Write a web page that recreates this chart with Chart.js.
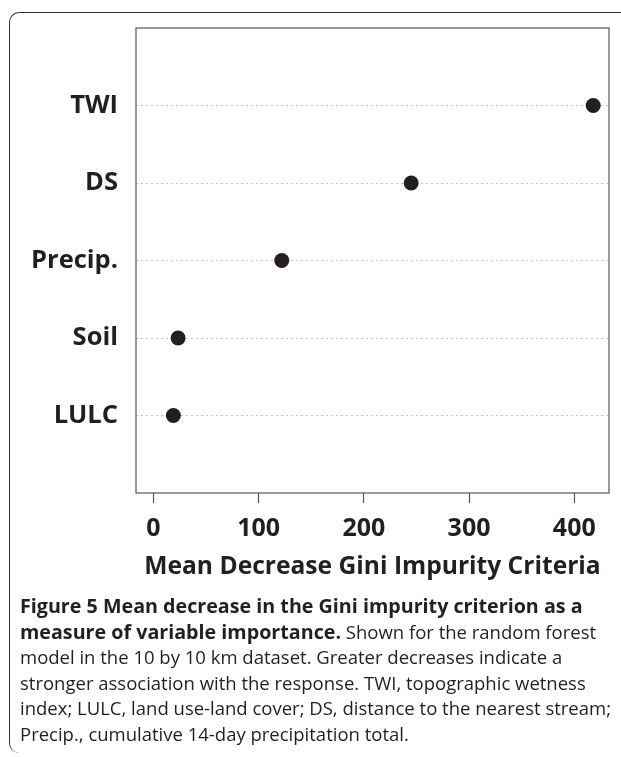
<!DOCTYPE html>
<html>
<head>
<meta charset="utf-8">
<script src="https://cdn.jsdelivr.net/npm/chart.js@4/dist/chart.umd.min.js"></script>
<style>
  html, body { margin: 0; padding: 0; background: #fff; }
  body { width: 621px; height: 757px; position: relative; overflow: hidden; font-family: "Open Sans", sans-serif; }
  #frame { position: absolute; left: 9px; top: 12px; width: 640px; height: 741px; border-top: 1.5px solid #333; border-left: 1.5px solid #333; border-radius: 10px 0 0 10px; box-sizing: border-box; }
  #wrap { position: absolute; left: 0; top: 0; width: 621px; height: 595px; }
  #caption { position: absolute; left: 20px; top: 593px; font-size: 18.5px; line-height: 25.5px; color: #231f20; white-space: nowrap; }
  #caption b { font-weight: 700; font-size: 19.7px; }
</style>
</head>
<body>
<div id="frame"></div>
<div id="wrap"><canvas id="chart"></canvas></div>
<div id="caption">
  <b>Figure 5 Mean decrease in the Gini impurity criterion as a</b><br>
  <b>measure of variable importance.</b> Shown for the random forest<br>
  model in the 10 by 10 km dataset. Greater decreases indicate a<br>
  stronger association with the response. TWI, topographic wetness<br>
  index; LULC, land use-land cover; DS, distance to the nearest stream;<br>
  Precip., cumulative 14-day precipitation total.
</div>
<script>
// variables, top to bottom as in the dot chart
const variables = ["TWI", "DS", "Precip.", "Soil", "LULC"];
const meanDecreaseGini = [418, 245, 122, 23.5, 19];
const xTicks = [0, 100, 200, 300, 400];
const axisTitle = "Mean Decrease Gini Impurity Criteria";

const n = variables.length;
const points = variables.map((v, i) => ({ x: meanDecreaseGini[i], y: n - i }));

const boxPlugin = {
  id: "box",
  afterDraw(chart) {
    const { ctx, chartArea: a } = chart;
    ctx.save();
    ctx.strokeStyle = "#555";
    ctx.lineWidth = 1.2;
    ctx.strokeRect(a.left, a.top, a.right - a.left, a.bottom - a.top);
    ctx.restore();
  }
};

new Chart(document.getElementById("chart"), {
  type: "scatter",
  data: { datasets: [{ data: points, backgroundColor: "#231f20", borderWidth: 0, pointRadius: 7.5, pointHoverRadius: 7.5 }] },
  options: {
    responsive: true, maintainAspectRatio: false, animation: false,
    layout: { padding: { top: 28, right: 12, left: 0, bottom: 0 } },
    plugins: { legend: { display: false }, tooltip: { enabled: false } },
    scales: {
      x: {
        type: "linear", min: -16.5, max: 433,
        afterBuildTicks: s => { s.ticks = xTicks.map(v => ({ value: v })); },
        afterFit: s => { s.height = 102; },
        grid: { drawOnChartArea: false, drawTicks: true, tickLength: 10, tickColor: "#555", tickWidth: 1.2 },
        border: { display: false },
        ticks: { padding: 11, color: "#231f20", font: { family: "Open Sans", size: 25, weight: "bold" }, maxRotation: 0 },
        title: { display: true, text: axisTitle, color: "#231f20", font: { family: "Open Sans", size: 24.6, weight: "bold" }, padding: { top: 0, bottom: 13 } }
      },
      y: {
        type: "linear", min: 0, max: n + 1,
        afterBuildTicks: s => { s.ticks = variables.map((v, i) => ({ value: n - i })); },
        afterFit: s => { s.width = 136; s.paddingTop = 0; s.paddingBottom = 0; },
        grid: { drawTicks: false, color: "#c4c4c4", lineWidth: 1 },
        border: { display: false, dash: [2, 3] },
        ticks: { padding: 18, color: "#231f20", font: { family: "Open Sans", size: 25.5, weight: "bold" },
          callback: v => variables[n - v] }
      }
    }
  },
  plugins: [boxPlugin]
});
</script>
</body>
</html>
